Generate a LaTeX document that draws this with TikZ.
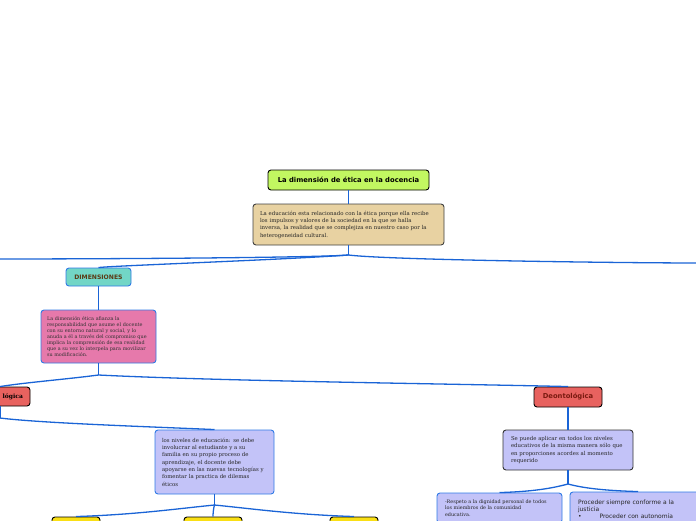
\documentclass[tikz,border=0pt]{standalone}
\usepackage{fontspec}
\setmainfont{DejaVu Serif}
\newfontfamily\vsans{DejaVu Sans}
\definecolor{connc}{HTML}{1A64D6}
\definecolor{limec}{HTML}{C2F761}
\definecolor{tanc}{HTML}{E8D2A2}
\definecolor{tealc}{HTML}{72D6C6}
\definecolor{pinkc}{HTML}{E679AB}
\definecolor{redc}{HTML}{E8625F}
\definecolor{lavc}{HTML}{C3C3F8}
\definecolor{yelc}{HTML}{FADF14}
\definecolor{bbluec}{HTML}{2F7AE6}
\definecolor{brownc}{HTML}{5B3A14}
\definecolor{dredc}{HTML}{7A1A10}
\begin{document}
\begin{tikzpicture}[x=1pt,y=-1pt,
  box/.style={rounded corners=3pt, line width=0.9pt, inner sep=0pt, align=left},
  conn/.style={draw=connc, line width=1.3pt},
  serifsm/.style={font=\fontsize{5.4}{7.3}\selectfont},
  seriftiny/.style={font=\fontsize{4.9}{6.1}\selectfont}]
\useasboundingbox (0,0) rectangle (696,520);
% nodes
\node[box, draw=black, fill=limec, minimum width=161, minimum height=20,
  align=center, font=\vsans\bfseries\fontsize{6.8}{8}\selectfont] (title) at (348.5,180) {La dimensión de ética en la docencia};
\node[box, draw=black!75, fill=tanc, minimum width=191, minimum height=41, text width=177, serifsm, text=black!85] (desc) at (348.5,224.5)
  {La educación esta relacionado con la ética porque ella recibe\\los impulsos y valores de la sociedad en la que se halla\\inversa, la realidad que se complejiza en nuestro caso por la\\heterogeneidad cultural.};
\node[box, draw=bbluec, fill=tealc, minimum width=65, minimum height=18, align=center,
  font=\vsans\bfseries\fontsize{6.1}{7}\selectfont, text=brownc] (dim) at (98.5,277) {DIMENSIONES};
\node[box, draw=bbluec, fill=pinkc, minimum width=115, minimum height=53, text width=103, seriftiny, text=black!80] (pink) at (98.5,336.5)
  {La dimensión ética afianza la\\responsabilidad que asume el docente\\con su entorno natural y social, y lo\\anuda a él a través del compromiso que\\implica la comprensión de esa realidad\\que a su vez lo interpela para movilizar\\su modificación.};
\node[box, draw=black, fill=redc, minimum width=60, minimum height=19, text width=46, align=right,
  font=\bfseries\fontsize{6}{8}\selectfont] (logica) at (0,396.5) {lógica};
\node[box, draw=black, fill=redc, minimum width=68, minimum height=20, align=center,
  font=\vsans\bfseries\fontsize{6.8}{7}\selectfont, text=dredc] (deon) at (568,397) {Deontológica};
\node[box, draw=bbluec, fill=lavc, minimum width=119, minimum height=64, text width=105, serifsm, text=black!85] (lav1) at (214.5,462)
  {los niveles de educación: se debe\\involucrar al estudiante y a su\\familia en su propio proceso de\\aprendizaje, el docente debe\\apoyarse en las nuevas tecnologías y\\fomentar la practica de dilemas\\éticos};
\node[box, draw=black!80, fill=lavc, minimum width=130, minimum height=40, text width=114, serifsm, text=black!85] (lav2) at (568,450)
  {Se puede aplicar en todos los niveles\\educativos de la misma manera sólo que\\en proporciones acordes al momento\\requerido};
\node[box, draw=bbluec, fill=lavc, minimum width=125, minimum height=30, text width=109,
  font=\fontsize{4.9}{6.6}\selectfont, text=black!85] (resp) at (499.5,508)
  {-Respeto a la dignidad personal de todos\\los miembros de la comunidad\\educativa.};
\node[box, draw=bbluec, fill=lavc, minimum width=136, minimum height=34, text width=120,
  font=\vsans\fontsize{6}{7.2}\selectfont, text=black!85] (proc) at (638,509)
  {Proceder siempre conforme a la\\justicia\\\textbullet\hspace{18pt}Proceder con autonomía};
\node[box, draw=black, fill=yelc, minimum width=48, minimum height=14] (y1) at (76,524) {};
\node[box, draw=black, fill=yelc, minimum width=58, minimum height=14] (y2) at (213,524) {};
\node[box, draw=black, fill=yelc, minimum width=48, minimum height=14] (y3) at (354,524) {};
% junctions
\coordinate (j1) at (348.5,255);
\coordinate (offL) at (-5,259);
\coordinate (offR) at (702,263);
\coordinate (j2) at (98.5,375);
\coordinate (j3) at (0,418);
\coordinate (offL2) at (-5,420);
\coordinate (j4) at (568,484);
\coordinate (j5) at (214.5,505);
% connectors
\draw[conn] (title.south) -- (desc.north);
\draw[conn] (desc.south) -- (j1);
\draw[conn] (j1) .. controls +(-40,3) and +(80,0) .. (offL);
\draw[conn] (j1) .. controls +(-70,5) and +(18,-2) .. (dim.north);
\draw[conn] (j1) .. controls +(40,5) and +(-80,0) .. (offR);
\draw[conn] (dim.south) -- (pink.north);
\draw[conn] (pink.south) -- (j2);
\draw[conn] (j2) .. controls +(-30,4) and +(25,-4) .. (logica.north);
\draw[conn] (j2) .. controls +(120,6) and +(-130,-3) .. (deon.north);
\draw[conn] (logica.south) -- (j3);
\draw[conn] (j3) .. controls +(-3,1) and +(3,0) .. (offL2);
\draw[conn] (j3) .. controls +(40,5) and +(-70,-3) .. (lav1.north);
\draw[conn] (deon.south) -- (lav2.north);
\draw[conn] (lav2.south) -- (j4);
\draw[conn] (j4) .. controls +(-15,4) and +(35,-1) .. (resp.north);
\draw[conn] (j4) .. controls +(15,4) and +(-35,-1) .. (proc.north);
\draw[conn] (lav1.south) -- (j5);
\draw[conn] (j5) .. controls +(-40,4) and +(60,-2) .. (y1.north);
\draw[conn] (j5) .. controls +(-1,3) and +(0,-3) .. (y2.north);
\draw[conn] (j5) .. controls +(40,4) and +(-60,-2) .. (y3.north);
\end{tikzpicture}
\end{document}
